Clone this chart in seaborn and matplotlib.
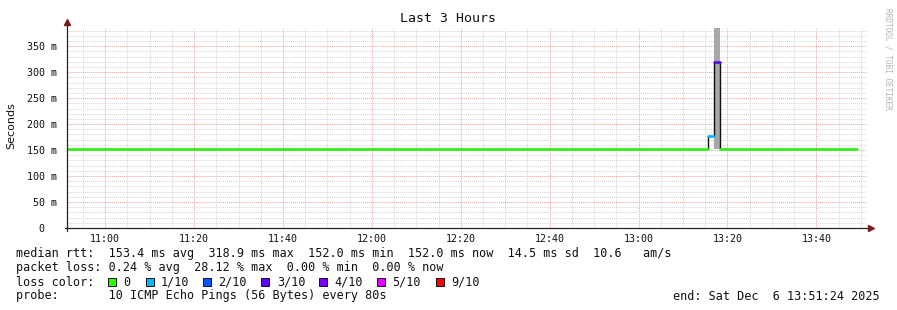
import numpy as np
import pandas as pd
import matplotlib
matplotlib.use("Agg")
import matplotlib.pyplot as plt
import matplotlib.dates as mdates
from matplotlib.ticker import MultipleLocator, FuncFormatter
from matplotlib.patches import Rectangle
import seaborn as sns

# ---------------- data ----------------
day = "2025-12-06 "
view_start = "10:51:24"
view_end = "13:51:24"
seg_start = ["10:51:24", "13:15:40", "13:17:00", "13:18:20"]
seg_end = ["13:15:40", "13:17:00", "13:18:20", "13:49:10"]
median_ms = [152.0, 177.5, 318.9, 152.0]
loss_label = ["0", "1/10", "3/10", "0"]
smoke_lo_ms = [152.0, 177.5, 152.0, 152.0]
smoke_hi_ms = [152.0, 177.5, 395.0, 152.0]

legend_labels = ["0", "1/10", "2/10", "3/10", "4/10", "5/10", "9/10"]
legend_colors = ["#26ff00", "#00b8ff", "#0059ff", "#5e00ff", "#7e00ff", "#dd00ff", "#ff0000"]

title = "Last 3 Hours"
ylabel = "Seconds"
stat_lines = [
    "median rtt:  153.4 ms avg  318.9 ms max  152.0 ms min  152.0 ms now  14.5 ms sd  10.6   am/s",
    "packet loss: 0.24 % avg  28.12 % max  0.00 % min  0.00 % now",
    "loss color:",
    "probe:       10 ICMP Echo Pings (56 Bytes) every 80s",
]
end_text = "end: Sat Dec  6 13:51:24 2025"
watermark = "RRDTOOL / TOBI OETIKER"

# ---------------- frame ----------------
palette = dict(zip(legend_labels, legend_colors))
t_start = [pd.Timestamp(day + s) for s in seg_start]
t_end = [pd.Timestamp(day + s) for s in seg_end]

sns.set_theme(style="white")
plt.rcParams['font.family'] = ['DejaVu Sans Mono', 'DejaVu Sans']

W, H = 897, 310
fig = plt.figure(figsize=(W / 100, H / 100), dpi=100)
fig.patch.set_facecolor("white")
ax = fig.add_axes([67 / W, (H - 228) / H, 800 / W, 200 / H])
ax.set_facecolor("white")

# smoke (gray)
for s, e, lo, hi in zip(t_start, t_end, smoke_lo_ms, smoke_hi_ms):
    if hi > lo:
        ax.fill_between([s, e], [lo, lo], [hi, hi], color="#a8a8a8", lw=0, zorder=2)

# black step median line
step_t = t_start + [t_end[-1]]
step_v = median_ms + [median_ms[-1]]
sns.lineplot(x=step_t, y=step_v, drawstyle="steps-post", color="#111111",
             lw=1.0, estimator=None, ax=ax, zorder=3)

# coloured median segments by loss
rows = []
for i, (s, e, m, l) in enumerate(zip(t_start, t_end, median_ms, loss_label)):
    rows.append(dict(seg=i, time=s, median=m, loss=l))
    rows.append(dict(seg=i, time=e, median=m, loss=l))
df = pd.DataFrame(rows)
sns.lineplot(data=df, x="time", y="median", hue="loss", units="seg", estimator=None,
             palette=palette, lw=1.8, legend=False, ax=ax, zorder=4)

ax.set_xlim(pd.Timestamp(day + view_start), pd.Timestamp(day + view_end))
ax.set_ylim(0, 385)

# grid
ax.xaxis.set_major_locator(mdates.MinuteLocator(byminute=[0, 20, 40]))
ax.xaxis.set_minor_locator(mdates.MinuteLocator(byminute=range(0, 60, 5)))
ax.xaxis.set_major_formatter(mdates.DateFormatter("%H:%M"))
ax.yaxis.set_major_locator(MultipleLocator(50))
ax.yaxis.set_minor_locator(MultipleLocator(10))
ax.yaxis.set_major_formatter(FuncFormatter(lambda v, p: "0  " if v == 0 else f"{int(v)} m"))
ax.grid(which="minor", color="#d4d4d4", ls=(0, (1, 1)), lw=0.7, zorder=0)
ax.grid(which="major", color="#f2a0a0", ls=(0, (1, 1)), lw=0.7, zorder=1)
ax.set_axisbelow(True)

for sp in ax.spines.values():
    sp.set_visible(False)
ax.tick_params(axis="x", which="both", length=0, pad=4, labelsize=7.2, colors="#111111")
ax.tick_params(axis="y", which="major", length=2, width=0.7, pad=5, labelsize=7.2,
               colors="#111111", direction="out")
ax.tick_params(axis="y", which="minor", length=1.5, width=0.7, direction="out", color="#333333")
ax.set_xlabel("")
ax.set_ylabel("")

# axes lines with arrows
ax.plot([0, 0], [-0.015, 1.02], transform=ax.transAxes, color="#222222", lw=0.9, clip_on=False, zorder=6)
ax.plot([-0.003, 1.003], [0, 0], transform=ax.transAxes, color="#222222", lw=0.9, clip_on=False, zorder=6)
ax.plot([0], [1.03], marker="^", ms=4.5, color="#7a1a1a", transform=ax.transAxes, clip_on=False, zorder=7)
ax.plot([1.005], [0], marker=">", ms=4.5, color="#7a1a1a", transform=ax.transAxes, clip_on=False, zorder=7)

# texts
fig.text(448 / W, 1 - 19 / H, title, ha="center", va="center", fontsize=9.5, color="#111111")
fig.text(11 / W, 1 - 126 / H, ylabel, rotation=90, ha="center", va="center",
         fontsize=8, family="DejaVu Sans", color="#111111")
fig.text(888 / W, 1 - 59 / H, watermark, rotation=-90, ha="center", va="center",
         fontsize=5.6, color="#b4b4b4")

row_y = [254, 268, 282, 296]
for txt, y in zip(stat_lines, row_y):
    fig.text(16 / W, 1 - y / H, txt, ha="left", va="center", fontsize=8.5, color="#111111")
fig.text(880 / W, 1 - 296 / H, end_text, ha="right", va="center", fontsize=8.5, color="#111111")

sq_x = [108, 146, 203, 261, 319, 377, 436]
lab_x = [123, 161, 218, 277, 334, 392, 451]
for c, lab, sx, lx in zip(legend_colors, legend_labels, sq_x, lab_x):
    fig.patches.append(Rectangle((sx / W, 1 - 286 / H), 8 / W, 8 / H, transform=fig.transFigure,
                                 facecolor=c, edgecolor="#111111", lw=0.7))
    fig.text(lx / W, 1 - 282 / H, lab, ha="left", va="center", fontsize=8.5, color="#111111")

fig.savefig("out.png", dpi=100, facecolor="white")
